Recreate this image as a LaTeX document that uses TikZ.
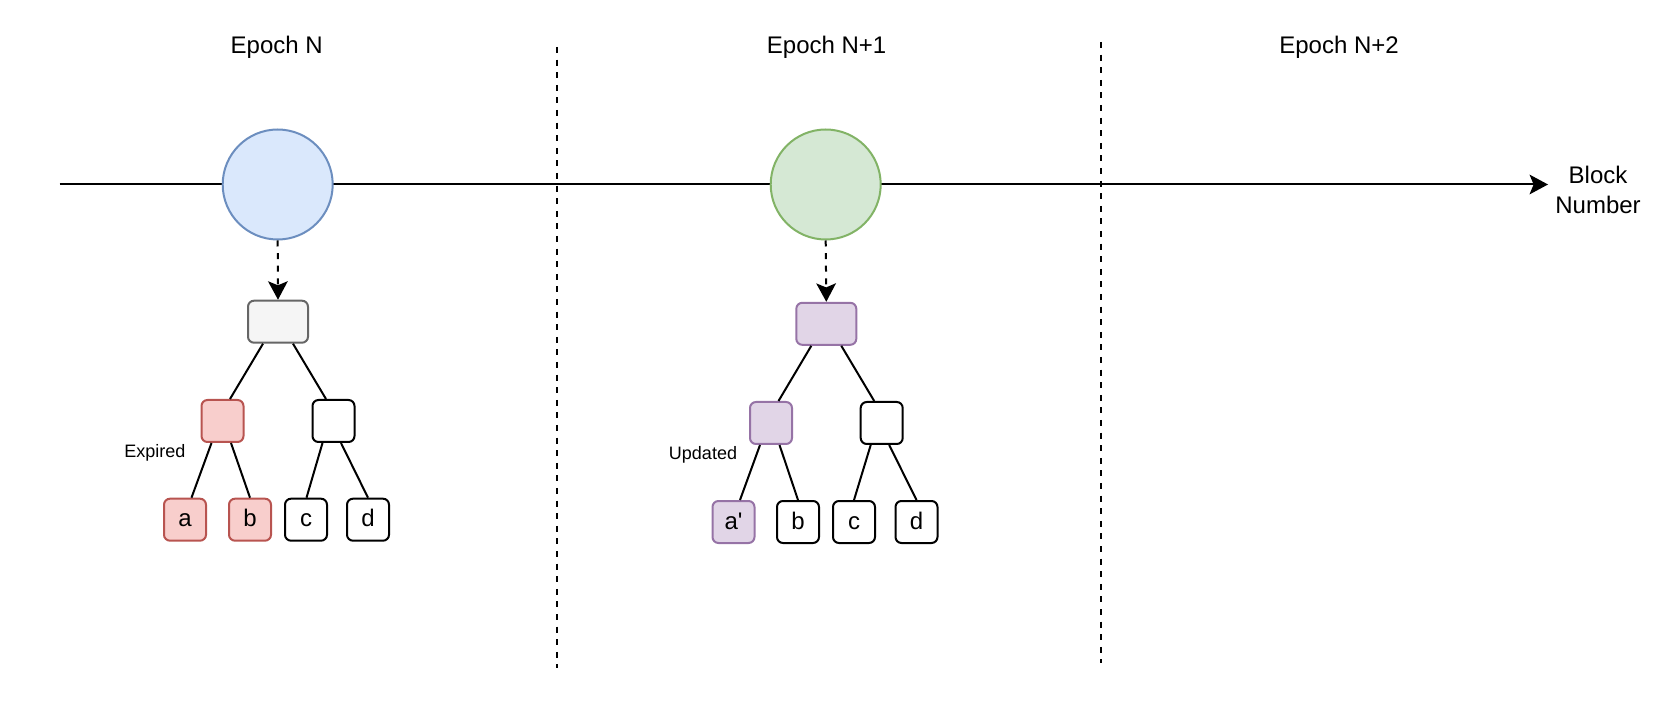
\documentclass[tikz,border=0pt]{standalone}
\usepackage{fontspec}
\setmainfont{Liberation Sans}
\newfontfamily\straightfont[Ligatures=TeXOff]{Liberation Sans}
\usetikzlibrary{arrows.meta,calc}
\definecolor{blueF}{HTML}{DAE8FC}
\definecolor{blueS}{HTML}{6C8EBF}
\definecolor{greenF}{HTML}{D5E8D4}
\definecolor{greenS}{HTML}{82B366}
\definecolor{grayF}{HTML}{F5F5F5}
\definecolor{grayS}{HTML}{666666}
\definecolor{redF}{HTML}{F8CECC}
\definecolor{redS}{HTML}{B85450}
\definecolor{purpF}{HTML}{E1D5E7}
\definecolor{purpS}{HTML}{9673A6}
\begin{document}
\begin{tikzpicture}[x=0.5pt,y=-0.5pt,
  epochcircle/.style={circle, draw, minimum size=55pt, inner sep=0pt, line width=1pt},
  treebox/.style={draw, rounded corners=3pt, line width=1pt, inner sep=0pt,
    minimum width=21pt, minimum height=21pt, font=\fontsize{12}{14}\selectfont,
    text height=9.6pt, text depth=2.4pt},
  rootbox/.style={treebox, minimum width=30pt},
  redbox/.style={treebox, fill=redF, draw=redS},
  purpbox/.style={treebox, fill=purpF, draw=purpS},
  treeedge/.style={line width=1pt},
  sepline/.style={line width=1pt, dash pattern=on 3pt off 3.3pt},
  tiparrow/.style={-{Stealth[length=9.2pt,width=9.8pt,inset=2pt]}},
  title/.style={anchor=base, inner sep=0pt, font=\fontsize{12}{15}\selectfont},
  small/.style={anchor=base, inner sep=0pt, font=\fontsize{9}{11}\selectfont}
]
\useasboundingbox (0,0) rectangle (1668,710);

% titles
\node[title] (t1) at (276.7,53.3) {Epoch N};
\node[title] (t2) at (826.6,53.3) {Epoch N+1};
\node[title] (t3) at (1339,53.3) {Epoch N+2};

% separators
\coordinate (s1a) at (557,47);
\coordinate (s1b) at (557,668);
\coordinate (s2a) at (1101,42);
\coordinate (s2b) at (1101,663);
\draw[sepline] (s1a) -- (s1b);
\draw[sepline] (s2a) -- (s2b);

% timeline
\coordinate (tl0) at (59.5,184.5);
\coordinate (tl1) at (1548,184.5);
\draw[line width=1pt, tiparrow] (tl0) -- (tl1);
\node[title] (bn) at (1598,184) {Block};
\node[title] (bn2) at (1598,214) {Number};

% epoch circles
\node[epochcircle, fill=blueF, draw=blueS] (c1) at (277.7,184.5) {};
\node[epochcircle, fill=greenF, draw=greenS] (c2) at (825.7,184.5) {};

% tree 1
\node[rootbox, fill=grayF, draw=grayS] (r1) at (278,321.7) {};
\node[redbox] (m1L) at (222.5,421) {};
\node[treebox] (m1R) at (333.5,421) {};
\node[redbox] (a1) at (185,519.7) {a};
\node[redbox] (b1) at (250,519.7) {b};
\node[treebox] (cc1) at (306,519.7) {c};
\node[treebox] (d1) at (368,519.7) {d};
\node[small] (exp) at (155,457.7) {Expired};

\draw[sepline, tiparrow] (c1.south) -- (r1.north);
\draw[treeedge] ($(r1.south)+(-15,0)$) -- ($(m1L.north)+(7.5,0)$);
\draw[treeedge] ($(r1.south)+(15,0)$) -- ($(m1R.north)+(-7.5,0)$);
\draw[treeedge] ($(m1L.south)+(-11,0)$) -- ($(a1.north)+(6.5,0)$);
\draw[treeedge] ($(m1L.south)+(8.5,0)$) -- (b1.north);
\draw[treeedge] ($(m1R.south)+(-11,0)$) -- ($(cc1.north)+(0.5,0)$);
\draw[treeedge] ($(m1R.south)+(7.5,0)$) -- (d1.north);

% tree 2
\node[rootbox, fill=purpF, draw=purpS] (r2) at (826.3,323.8) {};
\node[purpbox] (m2L) at (771,423) {};
\node[treebox] (m2R) at (881.7,423) {};
\node[purpbox] (a2) at (733.5,522) {\straightfont a'};
\node[treebox] (b2) at (798,522) {b};
\node[treebox] (cc2) at (854,522) {c};
\node[treebox] (d2) at (916.5,522) {d};
\node[small] (upd) at (703,459.3) {Updated};

\draw[sepline, tiparrow] (c2.south) -- (r2.north);
\draw[treeedge] ($(r2.south)+(-15,0)$) -- ($(m2L.north)+(7.5,0)$);
\draw[treeedge] ($(r2.south)+(15,0)$) -- ($(m2R.north)+(-7.5,0)$);
\draw[treeedge] ($(m2L.south)+(-11,0)$) -- ($(a2.north)+(6.5,0)$);
\draw[treeedge] ($(m2L.south)+(8.5,0)$) -- (b2.north);
\draw[treeedge] ($(m2R.south)+(-11,0)$) -- (cc2.north);
\draw[treeedge] ($(m2R.south)+(7.5,0)$) -- (d2.north);
\end{tikzpicture}
\end{document}
